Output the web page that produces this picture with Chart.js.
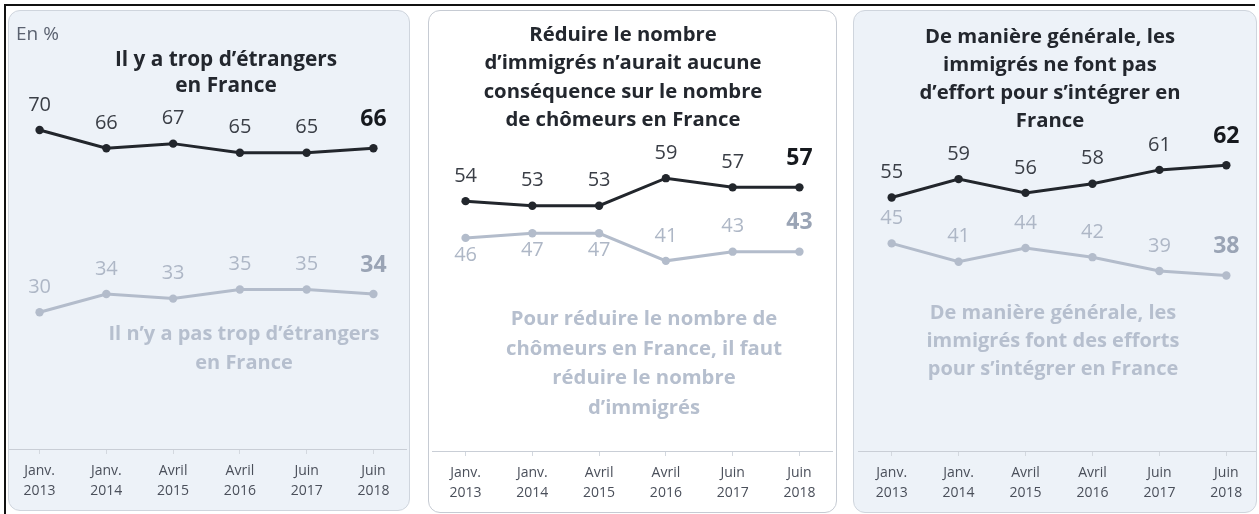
<!DOCTYPE html>
<html lang="fr">
<head>
<meta charset="utf-8">
<script src="https://cdn.jsdelivr.net/npm/chart.js@4"></script>
<style>
  html, body { margin: 0; padding: 0; background: #fff; }
  body { width: 1259px; height: 514px; position: relative; overflow: hidden; font-family: "Open Sans", Lato, sans-serif; }
  .frame-top { position: absolute; left: 4px; top: 4px; width: 1251px; height: 2px; background: #111; }
  .frame-left { position: absolute; left: 4px; top: 4px; width: 2px; height: 510px; background: #111; }
  .panel { position: absolute; border: 1px solid #cfd5dd; border-radius: 12px; overflow: hidden; box-sizing: border-box; }
  .panel canvas { position: absolute; }
  .blue { background: #edf2f8; }
  .white { background: #fff; border-color: #c6cbd3; }
  .txt { position: absolute; text-align: center; white-space: nowrap; font-weight: bold; }
  .dark { color: #23272e; }
  .light { color: #b6bfce; }
</style>
</head>
<body>
<div class="frame-top"></div>
<div class="frame-left"></div>

<div class="panel blue" style="left:8px;top:10px;width:402px;height:501px;">
  <canvas id="chart1" width="409" height="501" style="left:-7px;top:-1px;"></canvas>
</div>
<div class="panel white" style="left:428px;top:10px;width:409px;height:503px;">
  <canvas id="chart2" width="409" height="503" style="left:-1px;top:-1px;"></canvas>
</div>
<div class="panel blue" style="left:853px;top:10px;width:404px;height:503px;">
  <canvas id="chart3" width="410" height="503" style="left:0px;top:-1px;"></canvas>
</div>

<div class="txt" style="left:16px;top:20px;font-weight:normal;font-size:19px;color:#5b6270;line-height:26px;">En %</div>
<div class="txt dark" style="left:76px;top:45px;width:300px;font-size:20.8px;line-height:26px;">Il y a trop d’étrangers<br>en France</div>
<div class="txt light" style="left:74px;top:318px;width:340px;font-size:20px;line-height:29px;">Il n’y a pas trop d’étrangers<br>en France</div>

<div class="txt dark" style="left:453px;top:19px;width:340px;font-size:20.3px;line-height:28.3px;">Réduire le nombre<br>d’immigrés n’aurait aucune<br>conséquence sur le nombre<br>de chômeurs en France</div>
<div class="txt light" style="left:474px;top:303px;width:340px;font-size:20.3px;line-height:29.7px;">Pour réduire le nombre de<br>chômeurs en France, il faut<br>réduire le nombre<br>d’immigrés</div>

<div class="txt dark" style="left:880px;top:21px;width:340px;font-size:20.3px;line-height:28px;">De manière générale, les<br>immigrés ne font pas<br>d’effort pour s’intégrer en<br>France</div>
<div class="txt light" style="left:883px;top:298px;width:340px;font-size:20px;line-height:28px;">De manière générale, les<br>immigrés font des efforts<br>pour s’intégrer en France</div>

<script>
// categories
const categories = [['Janv.', '2013'], ['Janv.', '2014'], ['Avril', '2015'], ['Avril', '2016'], ['Juin', '2017'], ['Juin', '2018']];

// panel 1
const tropEtrangers = [70, 66, 67, 65, 65, 66];
const pasTropEtrangers = [30, 34, 33, 35, 35, 34];
// panel 2
const aucuneConsequence = [54, 53, 53, 59, 57, 57];
const fautReduire = [46, 47, 47, 41, 43, 43];
// panel 3
const pasEffort = [55, 59, 56, 58, 61, 62];
const fontEfforts = [45, 41, 44, 42, 39, 38];

const FONT = '"Open Sans", Lato, sans-serif';
const DARK = '#22262c';
const LIGHT = '#b3bccb';

// value labels above (or below) each point
const valueLabels = {
  id: 'valueLabels',
  afterDatasetsDraw(chart, args, opts) {
    const ctx = chart.ctx;
    chart.data.datasets.forEach((ds, i) => {
      const meta = chart.getDatasetMeta(i);
      const below = (opts.below && opts.below[i]) || [];
      meta.data.forEach((pt, j) => {
        const last = j === meta.data.length - 1;
        ctx.save();
        ctx.textAlign = 'center';
        ctx.textBaseline = 'middle';
        ctx.font = (last ? 'bold 23px ' : '20px ') + FONT;
        ctx.fillStyle = i === 0 ? (last ? '#16191e' : '#3a3e46') : (last ? '#9aa4b5' : '#aeb7c6');
        let dy = last ? -29 : -25;
        if (below[j]) dy = 17;
        ctx.fillText(ds.data[j], pt.x, pt.y + dy);
        ctx.restore();
      });
    });
  }
};

function makeChart(id, dark, light, yMin, yMax, below) {
  return new Chart(document.getElementById(id), {
    type: 'line',
    data: {
      labels: categories,
      datasets: [{
        data: dark,
        borderColor: DARK,
        backgroundColor: DARK,
        borderWidth: 3,
        pointRadius: 4.2,
        pointBorderWidth: 0
      }, {
        data: light,
        borderColor: LIGHT,
        backgroundColor: LIGHT,
        borderWidth: 3,
        pointRadius: 4.2,
        pointBorderWidth: 0
      }]
    },
    options: {
      responsive: false,
      animation: false,
      devicePixelRatio: 1,
      layout: { padding: 0 },
      plugins: {
        legend: { display: false },
        tooltip: { enabled: false },
        valueLabels: { below: below }
      },
      scales: {
        x: {
          offset: true,
          grid: { display: true, drawOnChartArea: false, tickLength: 5, color: '#d3d8df' },
          border: { display: true, color: '#c9ced6', width: 1 },
          ticks: { color: '#4a4f5a', padding: 7, font: { family: FONT, size: 14, lineHeight: 1.42 }, maxRotation: 0 },
          afterFit: s => { s.height = 62; }
        },
        y: { display: false, min: yMin, max: yMax }
      }
    },
    plugins: [valueLabels]
  });
}

const chart1 = makeChart('chart1', tropEtrangers, pasTropEtrangers, 0, 95.4, []);
const chart2 = makeChart('chart2', aucuneConsequence, fautReduire, -0.4, 94.7, [[], [true, true, true]]);
const chart3 = makeChart('chart3', pasEffort, fontEfforts, -0.2, 94.9, []);
</script>
</body>
</html>
